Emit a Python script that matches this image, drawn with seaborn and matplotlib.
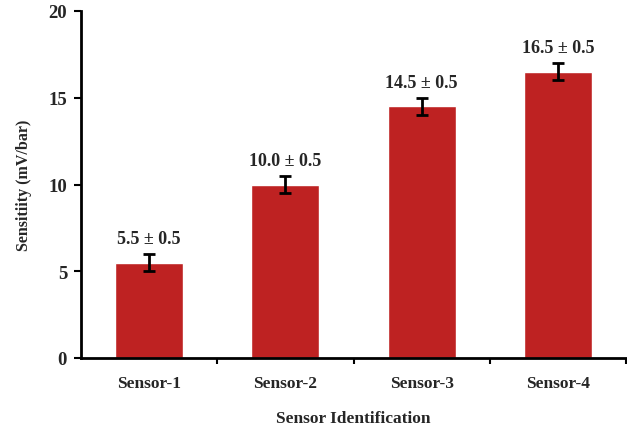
import matplotlib
matplotlib.use("Agg")
import matplotlib.pyplot as plt
import seaborn as sns
import pandas as pd
from matplotlib.ticker import FixedLocator

sensors = ["Sensor-1", "Sensor-2", "Sensor-3", "Sensor-4"]
sensitivity = [5.5, 10.0, 14.5, 16.5]
errors = [0.5, 0.5, 0.5, 0.5]
y_ticks = [0, 5, 10, 15, 20]

sns.set_theme(style="white")
plt.rcParams["font.family"] = ["Liberation Serif", "DejaVu Serif"]
plt.rcParams["font.weight"] = "bold"

df = pd.DataFrame({"sensor": sensors, "sens": sensitivity, "err": errors})

fig = plt.figure(figsize=(6.27, 4.31), dpi=100)
ax = fig.add_axes([81 / 627, 72 / 431, 545 / 627, 347 / 431])

sns.barplot(data=df, x="sensor", y="sens", color="#BE2222", saturation=1,
            width=0.5, errorbar=None, ax=ax)
ax.errorbar(range(len(sensors)), df["sens"], yerr=df["err"], fmt="none",
            ecolor="black", elinewidth=2, capsize=4, capthick=2)

for i, (v, e) in enumerate(zip(sensitivity, errors)):
    ax.annotate(f"{v:.1f} ± {e:.1f}", xy=(i, v + e), xytext=(0, 5),
                textcoords="offset points", ha="center", va="bottom",
                fontsize=13, fontweight="bold")

ax.set_xlim(-0.5, 3.5)
ax.set_ylim(0, 20)
ax.set_yticks(y_ticks)
ax.set_yticklabels([str(t) for t in y_ticks], fontsize=13.5, fontweight="bold")
ax.set_xticks(range(len(sensors)))
ax.set_xticklabels(sensors, fontsize=12.5, fontweight="bold")
ax.xaxis.set_minor_locator(FixedLocator([0.5, 1.5, 2.5, 3.5]))
ax.tick_params(axis="x", which="major", length=0, pad=12)
ax.tick_params(axis="x", which="minor", length=4, width=1.5, color="black", direction="out", bottom=True)
ax.tick_params(axis="y", which="major", length=5, width=1.5, color="black", direction="out", left=True, pad=5)

ax.set_xlabel("Sensor Identification", fontsize=12.5, fontweight="bold", labelpad=14)
ax.set_ylabel("Sensitiity (mV/bar)", fontsize=11.5, fontweight="bold", labelpad=12)

for side in ["top", "right"]:
    ax.spines[side].set_visible(False)
for side in ["left", "bottom"]:
    ax.spines[side].set_color("black")
    ax.spines[side].set_linewidth(2)

fig.savefig("out.png", dpi=100)
